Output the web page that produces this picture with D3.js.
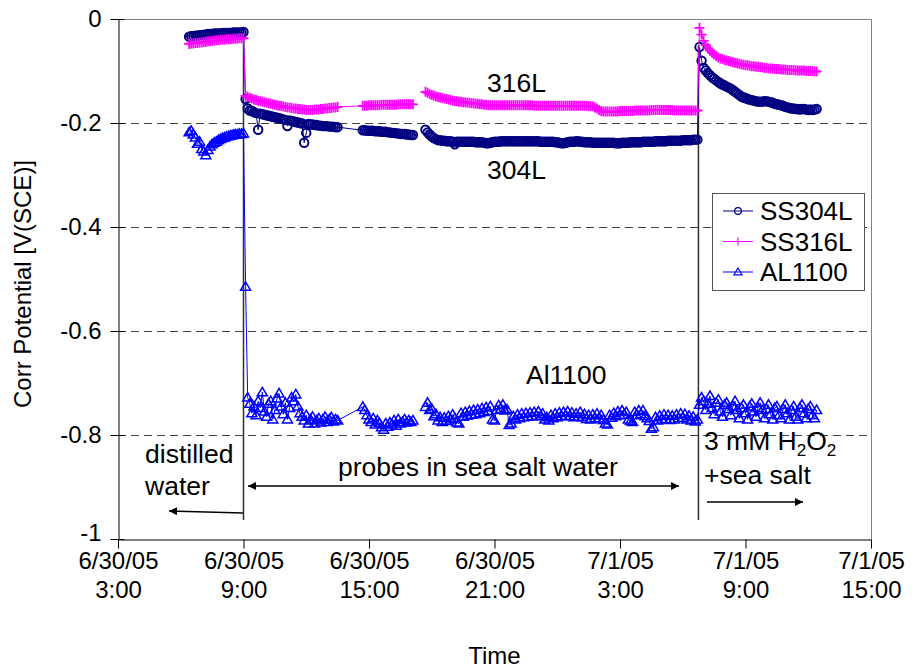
<!DOCTYPE html>
<html>
<head>
<meta charset="utf-8">
<script src="https://cdn.jsdelivr.net/npm/d3@7"></script>
<style>
  html, body { margin: 0; padding: 0; background: #fff; }
  svg { display: block; }
  text { font-family: "Liberation Sans", Arial, Helvetica, sans-serif; fill: #000; }
</style>
</head>
<body>
<svg id="chart" width="914" height="671"></svg>
<script>
// Logged corrosion potential readings, one every 0.1 h, in five recording runs.
// Run start times are hours after midnight on 6/30/05.
const runStartHours = [6.4, 9.1, 14.7, 17.7, 30.8];
const sampleStepHours = 0.1;
// Recording was interrupted between run 2 and run 3 (no connecting line there).
const breakBeforeRun = 3;

const ss304L = [
  [-0.034, -0.033, -0.033, -0.032, -0.032, -0.031, -0.031, -0.030, -0.030, -0.029, -0.029, -0.029, -0.028, -0.028,
   -0.028, -0.028, -0.027, -0.027, -0.027, -0.027, -0.027, -0.026, -0.026, -0.026, -0.026, -0.026, -0.025],
  [-0.154, -0.172, -0.176, -0.177, -0.179, -0.181, -0.213, -0.182, -0.183, -0.184, -0.185, -0.186, -0.187, -0.188,
   -0.189, -0.190, -0.191, -0.192, -0.193, -0.194, -0.206, -0.195, -0.196, -0.197, -0.198, -0.199, -0.200, -0.201,
   -0.238, -0.219, -0.202, -0.203, -0.203, -0.204, -0.204, -0.205, -0.205, -0.206, -0.206, -0.206, -0.207, -0.207,
   -0.207, -0.208, -0.208],
  [-0.214, -0.214, -0.215, -0.215, -0.215, -0.215, -0.216, -0.216, -0.216, -0.217, -0.217, -0.217, -0.218, -0.218,
   -0.219, -0.219, -0.220, -0.220, -0.221, -0.221, -0.221, -0.222, -0.222, -0.223, -0.223],
  [-0.213, -0.218, -0.222, -0.226, -0.229, -0.231, -0.233, -0.233, -0.234, -0.234,
   -0.235, -0.235, -0.235, -0.236, -0.241, -0.236, -0.236, -0.236, -0.236, -0.236,
   -0.236, -0.236, -0.236, -0.236, -0.237, -0.237, -0.237, -0.237, -0.238, -0.239,
   -0.239, -0.238, -0.237, -0.236, -0.236, -0.236, -0.235, -0.235, -0.235, -0.235,
   -0.235, -0.235, -0.235, -0.235, -0.235, -0.235, -0.235, -0.235, -0.235, -0.235,
   -0.235, -0.235, -0.235, -0.235, -0.235, -0.236, -0.236, -0.236, -0.236, -0.236,
   -0.236, -0.236, -0.237, -0.237, -0.238, -0.239, -0.239, -0.238, -0.237, -0.236,
   -0.236, -0.236, -0.235, -0.235, -0.236, -0.236, -0.237, -0.237, -0.237, -0.237,
   -0.238, -0.238, -0.238, -0.238, -0.238, -0.238, -0.238, -0.238, -0.238, -0.238,
   -0.238, -0.239, -0.239, -0.239, -0.238, -0.238, -0.238, -0.238, -0.237, -0.237,
   -0.237, -0.237, -0.237, -0.237, -0.236, -0.236, -0.236, -0.236, -0.236, -0.236,
   -0.235, -0.235, -0.235, -0.235, -0.235, -0.235, -0.234, -0.234, -0.234, -0.234,
   -0.234, -0.234, -0.234, -0.233, -0.233, -0.233, -0.233, -0.233, -0.232, -0.232, -0.232],
  [-0.054, -0.080, -0.094, -0.099, -0.104, -0.108, -0.112, -0.115, -0.118, -0.121,
   -0.124, -0.126, -0.128, -0.130, -0.132, -0.134, -0.137, -0.140, -0.143, -0.146,
   -0.149, -0.151, -0.152, -0.154, -0.155, -0.156, -0.157, -0.158, -0.159, -0.159,
   -0.159, -0.158, -0.158, -0.159, -0.160, -0.161, -0.163, -0.164, -0.165, -0.166,
   -0.167, -0.169, -0.170, -0.171, -0.172, -0.172, -0.173, -0.173, -0.174, -0.173,
   -0.173, -0.174, -0.175, -0.174, -0.175, -0.174, -0.173]
];

const ss316L = [
  [-0.048, -0.047, -0.047, -0.046, -0.046, -0.045, -0.045, -0.044, -0.044, -0.043, -0.043, -0.042, -0.042, -0.041,
   -0.041, -0.040, -0.040, -0.040, -0.039, -0.039, -0.039, -0.038, -0.038, -0.038, -0.037, -0.037, -0.037],
  [-0.148, -0.150, -0.152, -0.153, -0.155, -0.156, -0.157, -0.158, -0.159, -0.160,
   -0.161, -0.162, -0.163, -0.164, -0.165, -0.166, -0.167, -0.167, -0.168, -0.169,
   -0.170, -0.170, -0.171, -0.172, -0.172, -0.173, -0.173, -0.174, -0.174, -0.175,
   -0.175, -0.175, -0.175, -0.174, -0.174, -0.174, -0.173, -0.173, -0.172, -0.172,
   -0.171, -0.171, -0.170, -0.170, -0.169],
  [-0.167, -0.167, -0.167, -0.166, -0.166, -0.166, -0.166, -0.166, -0.166, -0.165, -0.165, -0.165, -0.165, -0.165,
   -0.165, -0.165, -0.165, -0.164, -0.164, -0.164, -0.164, -0.164, -0.164, -0.164, -0.164],
  [-0.140, -0.142, -0.144, -0.146, -0.147, -0.149, -0.150, -0.151, -0.152, -0.153,
   -0.154, -0.155, -0.156, -0.157, -0.158, -0.158, -0.159, -0.159, -0.160, -0.160,
   -0.161, -0.161, -0.162, -0.162, -0.163, -0.163, -0.164, -0.164, -0.165, -0.165,
   -0.166, -0.166, -0.166, -0.166, -0.166, -0.166, -0.166, -0.166, -0.166, -0.166,
   -0.166, -0.166, -0.166, -0.166, -0.166, -0.166, -0.166, -0.166, -0.166, -0.166,
   -0.166, -0.166, -0.167, -0.167, -0.167, -0.167, -0.167, -0.167, -0.167, -0.167,
   -0.167, -0.167, -0.167, -0.167, -0.167, -0.167, -0.167, -0.167, -0.167, -0.167,
   -0.167, -0.167, -0.167, -0.167, -0.167, -0.167, -0.167, -0.167, -0.168, -0.168,
   -0.168, -0.170, -0.172, -0.175, -0.177, -0.178, -0.178, -0.178, -0.178, -0.178,
   -0.178, -0.178, -0.178, -0.177, -0.177, -0.177, -0.177, -0.177, -0.177, -0.177,
   -0.176, -0.176, -0.176, -0.176, -0.176, -0.176, -0.176, -0.176, -0.175, -0.175,
   -0.175, -0.175, -0.175, -0.175, -0.175, -0.175, -0.175, -0.175, -0.175, -0.176,
   -0.176, -0.176, -0.176, -0.176, -0.176, -0.176, -0.176, -0.176, -0.176, -0.176, -0.176],
  [-0.017, -0.030, -0.042, -0.050, -0.056, -0.061, -0.065, -0.068, -0.071, -0.074,
   -0.076, -0.077, -0.079, -0.080, -0.081, -0.082, -0.083, -0.084, -0.085, -0.086,
   -0.087, -0.088, -0.089, -0.089, -0.090, -0.091, -0.091, -0.092, -0.092, -0.093,
   -0.093, -0.094, -0.094, -0.095, -0.095, -0.095, -0.096, -0.096, -0.096, -0.097,
   -0.097, -0.097, -0.098, -0.098, -0.098, -0.098, -0.099, -0.099, -0.099, -0.099,
   -0.099, -0.100, -0.100, -0.100, -0.100, -0.101, -0.101]
];

const al1100 = [
  [-0.218, -0.215, -0.222, -0.228, -0.240, -0.236, -0.250, -0.255, -0.262, -0.252, -0.245, -0.241, -0.238, -0.236,
   -0.233, -0.231, -0.229, -0.228, -0.226, -0.225, -0.224, -0.223, -0.222, -0.222, -0.221, -0.221, -0.220],
  [-0.515, -0.728, -0.740, -0.758, -0.745, -0.762, -0.735, -0.748, -0.718, -0.755,
   -0.765, -0.740, -0.735, -0.770, -0.752, -0.730, -0.720, -0.745, -0.760, -0.738,
   -0.770, -0.748, -0.728, -0.735, -0.722, -0.745, -0.758, -0.765, -0.772, -0.762,
   -0.778, -0.770, -0.765, -0.778, -0.772, -0.768, -0.776, -0.770, -0.765, -0.775,
   -0.770, -0.766, -0.774, -0.770, -0.772],
  [-0.746, -0.752, -0.762, -0.770, -0.775, -0.768, -0.780, -0.772, -0.777, -0.785, -0.790, -0.778, -0.784, -0.776,
   -0.780, -0.772, -0.782, -0.770, -0.778, -0.775, -0.770, -0.776, -0.772, -0.775, -0.772],
  [-0.746, -0.738, -0.752, -0.750, -0.764, -0.760, -0.772, -0.766, -0.775, -0.767,
   -0.773, -0.764, -0.770, -0.761, -0.768, -0.776, -0.778, -0.758, -0.765, -0.756,
   -0.763, -0.754, -0.761, -0.752, -0.760, -0.751, -0.758, -0.749, -0.756, -0.747,
   -0.754, -0.745, -0.770, -0.772, -0.752, -0.743, -0.750, -0.742, -0.753, -0.751,
   -0.781, -0.778, -0.764, -0.770, -0.761, -0.768, -0.759, -0.766, -0.758, -0.765,
   -0.757, -0.764, -0.756, -0.763, -0.755, -0.764, -0.759, -0.770, -0.766, -0.772,
   -0.762, -0.768, -0.759, -0.766, -0.757, -0.764, -0.756, -0.763, -0.755, -0.764,
   -0.757, -0.766, -0.759, -0.765, -0.756, -0.766, -0.760, -0.769, -0.762, -0.770,
   -0.761, -0.768, -0.759, -0.768, -0.762, -0.771, -0.778, -0.780, -0.762, -0.767,
   -0.758, -0.764, -0.755, -0.762, -0.753, -0.761, -0.756, -0.770, -0.773, -0.775,
   -0.756, -0.762, -0.753, -0.760, -0.753, -0.764, -0.768, -0.773, -0.788, -0.785,
   -0.766, -0.772, -0.763, -0.770, -0.761, -0.769, -0.762, -0.771, -0.763, -0.770,
   -0.761, -0.768, -0.759, -0.767, -0.760, -0.770, -0.763, -0.772, -0.765, -0.774, -0.770],
  [-0.742, -0.728, -0.735, -0.752, -0.740, -0.725, -0.748, -0.760, -0.738, -0.732,
   -0.755, -0.765, -0.742, -0.738, -0.750, -0.762, -0.745, -0.735, -0.752, -0.768,
   -0.748, -0.742, -0.758, -0.770, -0.745, -0.740, -0.755, -0.765, -0.748, -0.738,
   -0.752, -0.768, -0.750, -0.742, -0.760, -0.770, -0.748, -0.745, -0.762, -0.768,
   -0.750, -0.742, -0.758, -0.770, -0.752, -0.745, -0.765, -0.770, -0.748, -0.742,
   -0.758, -0.768, -0.750, -0.745, -0.762, -0.768, -0.752]
];

const seriesNames = ["SS304L", "SS316L", "AL1100"];
const seriesColors = ["#000080", "#FF00FF", "#0000FF"];
const seriesMarkers = ["circle", "plus", "triangle"];

// Axis definitions
const yTickValues = [0, -0.2, -0.4, -0.6, -0.8, -1];
const yTickLabels = ["0", "-0.2", "-0.4", "-0.6", "-0.8", "-1"];
const yGridValues = [-0.2, -0.4, -0.6, -0.8];
const xTickHours = [3, 9, 15, 21, 27, 33, 39];
const xDomainHours = [3, 39];
const yTitle = "Corr Potential [V(SCE)]";
const xTitle = "Time";

// Times (hours) when the test solution was changed
const eventHours = [9.0, 30.75];

const day0 = new Date(2005, 5, 30, 0, 0, 0);
const toDate = h => new Date(day0.getTime() + h * 3600 * 1000);

const svg = d3.select("#chart");
const plot = { left: 118, right: 871, top: 19, bottom: 539 };

const x = d3.scaleTime().domain(xDomainHours.map(toDate)).range([plot.left, plot.right]);
const y = d3.scaleLinear().domain([-1, 0]).range([plot.bottom, plot.top]);

// Plot frame (top and right edges in grey)
svg.append("path")
  .attr("d", `M${plot.left},${plot.top + 0.5}H${plot.right + 0.5}V${plot.bottom}`)
  .attr("fill", "none").attr("stroke", "#808080").attr("stroke-width", 1);

// Dashed horizontal gridlines
svg.append("g").selectAll("line").data(yGridValues).join("line")
  .attr("x1", plot.left).attr("x2", plot.right)
  .attr("y1", d => Math.round(y(d)) + 0.5).attr("y2", d => Math.round(y(d)) + 0.5)
  .attr("stroke", "#404040").attr("stroke-width", 1).attr("stroke-dasharray", "8,5");

// Y axis
const yAxis = d3.axisLeft(y).tickValues(yTickValues)
  .tickFormat((d, i) => yTickLabels[i]).tickSizeInner(7).tickSizeOuter(0).tickPadding(10);
const gy = svg.append("g").attr("transform", `translate(${plot.left + 0.5},0)`).call(yAxis);
gy.select(".domain").attr("stroke", "#000");
gy.selectAll(".tick line").attr("stroke", "#000").attr("x2", -8).attr("x1", 6);
gy.selectAll(".tick text").attr("font-size", 24).attr("font-family", "Liberation Sans, Arial, sans-serif")
  .attr("dy", (d, i) => i === yTickValues.length - 1 ? "0.08em" : "0.32em");

// X axis with two-line date/time labels
const fmtDate = d3.timeFormat("%-m/%-d/%y");
const fmtTime = d3.timeFormat("%-H:%M");
const xAxis = d3.axisBottom(x).tickValues(xTickHours.map(toDate))
  .tickFormat("").tickSizeInner(9).tickSizeOuter(0);
const gx = svg.append("g").attr("transform", `translate(0,${plot.bottom + 0.5})`).call(xAxis);
gx.select(".domain").attr("stroke", "#000");
gx.selectAll(".tick line").attr("stroke", "#000");
gx.selectAll(".tick").each(function (d) {
  const t = d3.select(this).append("text").attr("text-anchor", "middle")
    .attr("font-size", 24).attr("font-family", "Liberation Sans, Arial, sans-serif").attr("fill", "#000");
  t.append("tspan").attr("x", 0).attr("y", 29).text(fmtDate(d));
  t.append("tspan").attr("x", 0).attr("y", 58).text(fmtTime(d));
});

// Axis titles
svg.append("text").attr("x", (plot.left + plot.right) / 2).attr("y", 664)
  .attr("text-anchor", "middle").attr("font-size", 24).text(xTitle);
svg.append("text").attr("transform", `translate(31,${(plot.top + plot.bottom) / 2 + 5}) rotate(-90)`)
  .attr("text-anchor", "middle").attr("font-size", 24).text(yTitle);

// Event lines
svg.append("g").selectAll("line").data(eventHours).join("line")
  .attr("x1", d => x(toDate(d))).attr("x2", d => x(toDate(d)))
  .attr("y1", (d, i) => i === 0 ? 28 : 45).attr("y2", 520)
  .attr("stroke", "#303030").attr("stroke-width", 1.5);

// Build point lists
function buildPoints(runs) {
  const pts = [];
  runs.forEach((vals, r) => {
    if (r === breakBeforeRun) pts.push(null);
    vals.forEach((v, i) => pts.push({ t: toDate(runStartHours[r] + i * sampleStepHours), v }));
  });
  return pts;
}
const allSeries = [ss304L, ss316L, al1100].map(buildPoints);

const line = d3.line().defined(d => d !== null).x(d => x(d.t)).y(d => y(d.v));

const markerPath = {
  circle: d3.symbol().type(d3.symbolCircle).size(56)(),
  triangle: "M0,-5L5,3.5L-5,3.5Z",
  plus: "M-5,0H5M0,-5V5"
};
const markerStroke = [2, 1.8, 1.5];

allSeries.forEach((pts, s) => {
  const g = svg.append("g");
  g.append("path").attr("d", line(pts)).attr("fill", "none")
    .attr("stroke", seriesColors[s]).attr("stroke-width", 1);
  g.selectAll("path.m").data(pts.filter(d => d)).join("path").attr("class", "m")
    .attr("transform", d => `translate(${x(d.t)},${y(d.v)})`)
    .attr("d", markerPath[seriesMarkers[s]])
    .attr("fill", "none").attr("stroke", seriesColors[s]).attr("stroke-width", markerStroke[s]);
});

// Annotation text
const notes = [
  { text: "316L", x: 487, y: 92 },
  { text: "304L", x: 487, y: 179 },
  { text: "Al1100", x: 526, y: 384 },
  { text: "distilled", x: 145, y: 463 },
  { text: "water", x: 145, y: 495 },
  { text: "probes in sea salt water", x: 338, y: 476 },
  { text: "+sea salt", x: 704, y: 484 }
];
svg.append("g").selectAll("text").data(notes).join("text")
  .attr("x", d => d.x).attr("y", d => d.y).attr("font-size", 26.5).text(d => d.text);

// Chemical formula with subscripts
const h2o2 = svg.append("text").attr("x", 704).attr("y", 450).attr("font-size", 26.5);
h2o2.append("tspan").text("3 mM H");
h2o2.append("tspan").attr("font-size", 17).attr("dy", 6).text("2");
h2o2.append("tspan").attr("dy", -6).text("O");
h2o2.append("tspan").attr("font-size", 17).attr("dy", 6).text("2");

// Arrows
const defs = svg.append("defs");
defs.append("marker").attr("id", "ah").attr("viewBox", "0 0 10 10")
  .attr("refX", 10).attr("refY", 5).attr("markerWidth", 12).attr("markerHeight", 8)
  .attr("markerUnits", "userSpaceOnUse").attr("orient", "auto-start-reverse")
  .append("path").attr("d", "M0,0L10,5L0,10Z").attr("fill", "#000");

const arrows = [
  { x1: 243, y1: 513, x2: 169, y2: 511, start: false },
  { x1: 248, y1: 486, x2: 679, y2: 486, start: true },
  { x1: 707, y1: 502, x2: 803, y2: 502, start: false }
];
svg.append("g").selectAll("line").data(arrows).join("line")
  .attr("x1", d => d.x1).attr("y1", d => d.y1).attr("x2", d => d.x2).attr("y2", d => d.y2)
  .attr("stroke", "#000").attr("stroke-width", 1.3)
  .attr("marker-end", "url(#ah)")
  .attr("marker-start", d => d.start ? "url(#ah)" : null);

// Legend
const lg = svg.append("g");
lg.append("rect").attr("x", 712.5).attr("y", 193.5).attr("width", 152).attr("height", 97)
  .attr("fill", "#fff").attr("stroke", "#555").attr("stroke-width", 1);
seriesNames.forEach((name, i) => {
  const cy = 211 + i * 30.5;
  lg.append("line").attr("x1", 723).attr("x2", 753).attr("y1", cy).attr("y2", cy)
    .attr("stroke", seriesColors[i]).attr("stroke-width", 1);
  lg.append("path").attr("transform", `translate(738,${cy}) scale(0.8)`).attr("d", markerPath[seriesMarkers[i]])
    .attr("fill", "none").attr("stroke", seriesColors[i]).attr("stroke-width", 1.5);
  lg.append("text").attr("x", 760).attr("y", cy + 9).attr("font-size", 26).text(name);
});
</script>
</body>
</html>
